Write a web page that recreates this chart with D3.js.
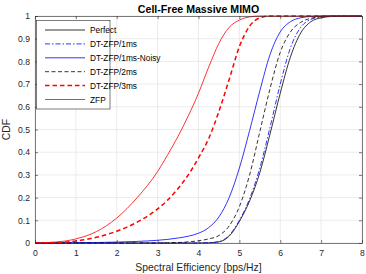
<!DOCTYPE html>
<html>
<head>
<meta charset="utf-8">
<script src="https://cdn.jsdelivr.net/npm/d3@7"></script>
<style>
  body { margin:0; background:#fff; }
  svg { display:block; font-family:"Liberation Sans", Arial, sans-serif; }
</style>
</head>
<body>
<div id="vis"></div>
<script>
// series (x = spectral efficiency, y = CDF)
var perfectX = [0, 4, 4.25, 4.5, 4.75, 5, 5.25, 5.5, 5.75, 6, 6.25, 6.5, 6.75, 7, 7.25, 7.5, 8]
var perfectY = [0, 0, 0.001, 0.005, 0.03, 0.095, 0.185, 0.31, 0.48, 0.66, 0.82, 0.925, 0.975, 0.992, 0.998, 1, 1]

var dt1X = [0, 4, 4.25, 4.5, 4.75, 5, 5.25, 5.5, 5.75, 6, 6.25, 6.5, 6.75, 7, 7.25, 8]
var dt1Y = [0, 0, 0.001, 0.006, 0.034, 0.1, 0.195, 0.33, 0.51, 0.7, 0.86, 0.95, 0.985, 0.996, 1, 1]

var noisyX = [0, 1, 2, 2.5, 3, 3.25, 3.5, 3.75, 4, 4.25, 4.5, 4.75, 5, 5.25, 5.5, 5.75, 6, 6.25, 6.5, 6.75, 7, 8]
var noisyY = [0, 0.001, 0.004, 0.007, 0.012, 0.016, 0.022, 0.03, 0.043, 0.068, 0.115, 0.2, 0.33, 0.495, 0.67, 0.83, 0.93, 0.975, 0.992, 0.998, 1, 1]

var dt2X = [0, 3, 3.5, 3.75, 4, 4.25, 4.5, 4.75, 5, 5.25, 5.5, 5.75, 6, 6.25, 6.5, 6.75, 7, 7.25, 8]
var dt2Y = [0, 0, 0.002, 0.005, 0.01, 0.018, 0.033, 0.075, 0.16, 0.3, 0.49, 0.68, 0.84, 0.93, 0.972, 0.99, 0.997, 1, 1]

var dt3X = [0, 0.5, 1, 1.5, 2, 2.5, 3, 3.25, 3.5, 3.75, 4, 4.25, 4.5, 4.75, 5, 5.25, 5.5, 5.75, 8]
var dt3Y = [0, 0.002, 0.009, 0.025, 0.052, 0.092, 0.15, 0.19, 0.24, 0.3, 0.375, 0.46, 0.58, 0.72, 0.865, 0.955, 0.992, 1, 1]

var zfpX = [0, 0.5, 1, 1.5, 2, 2.5, 3, 3.25, 3.5, 3.75, 4, 4.25, 4.5, 4.75, 5, 5.25, 5.5, 8]
var zfpY = [0, 0.004, 0.018, 0.05, 0.11, 0.2, 0.315, 0.39, 0.47, 0.56, 0.66, 0.775, 0.88, 0.95, 0.982, 0.996, 1, 1]

var seriesNames = ["Perfect", "DT-ZFP/1ms", "DT-ZFP/1ms-Noisy", "DT-ZFP/2ms", "DT-ZFP/3ms", "ZFP"]
var xTicks = [0, 1, 2, 3, 4, 5, 6, 7, 8]
var yTicks = [0, 0.1, 0.2, 0.3, 0.4, 0.5, 0.6, 0.7, 0.8, 0.9, 1]

var styles = [
  {color:"#000000", width:0.8, dash:null},
  {color:"#0000ff", width:0.8, dash:"5,2,1.5,2"},
  {color:"#0000ff", width:0.8, dash:null},
  {color:"#000000", width:0.8, dash:"4,2.5"},
  {color:"#ff0000", width:1.5, dash:"4.5,3"},
  {color:"#ff0000", width:0.8, dash:null}
]
var seriesX = [perfectX, dt1X, noisyX, dt2X, dt3X, zfpX]
var seriesY = [perfectY, dt1Y, noisyY, dt2Y, dt3Y, zfpY]

var W = 366, H = 274
var m = {left:35, right:4, top:16, bottom:31}

var svg = d3.select("#vis").append("svg").attr("width", W).attr("height", H)

var x = d3.scaleLinear().domain([0, 8]).range([m.left, W - m.right])
var y = d3.scaleLinear().domain([0, 1]).range([H - m.bottom, m.top])

// grid
svg.append("g").selectAll("line").data(xTicks).enter().append("line")
  .attr("x1", function(d){ return x(d) }).attr("x2", function(d){ return x(d) })
  .attr("y1", y(0)).attr("y2", y(1))
  .attr("stroke", "#e6e6e6").attr("stroke-width", 0.8)
svg.append("g").selectAll("line").data(yTicks).enter().append("line")
  .attr("y1", function(d){ return y(d) }).attr("y2", function(d){ return y(d) })
  .attr("x1", x(0)).attr("x2", x(8))
  .attr("stroke", "#e6e6e6").attr("stroke-width", 0.8)

// curves
var line = d3.line().curve(d3.curveMonotoneX)
  .x(function(d){ return x(d[0]) }).y(function(d){ return y(d[1]) })
var curves = svg.append("g")
for (var i = 0; i < seriesX.length; i++) {
  var pts = seriesX[i].map(function(v, j){ return [v, seriesY[i][j]] })
  var s = styles[i]
  curves.append("path").datum(pts)
    .attr("d", line)
    .attr("fill", "none")
    .attr("stroke", s.color)
    .attr("stroke-width", s.width)
    .attr("stroke-dasharray", s.dash)
}

// axes (matlab style, ticks inside, box)
var axCol = "#262626"
var xAxB = d3.axisBottom(x).tickValues(xTicks).tickSizeInner(-3).tickSizeOuter(0).tickPadding(7)
var xAxT = d3.axisTop(x).tickValues(xTicks).tickSizeInner(-3).tickSizeOuter(0).tickFormat("")
var yAxL = d3.axisLeft(y).tickValues(yTicks).tickSizeInner(-3).tickSizeOuter(0).tickPadding(5)
  .tickFormat(function(d){ return d === 0 || d === 1 ? d3.format("d")(d) : d3.format(".1f")(d) })
var yAxR = d3.axisRight(y).tickValues(yTicks).tickSizeInner(-3).tickSizeOuter(0).tickFormat("")

function styleAxis(g){
  g.selectAll("path").attr("stroke", axCol).attr("stroke-width", 0.6)
  g.selectAll("line").attr("stroke", axCol).attr("stroke-width", 0.6)
  g.selectAll("text").attr("fill", axCol).style("font-size", "8.6px")
    .style("font-family", "'Liberation Sans', Arial, sans-serif")
}
svg.append("g").attr("transform", "translate(0," + y(0) + ")").call(xAxB).call(styleAxis)
svg.append("g").attr("transform", "translate(0," + y(1) + ")").call(xAxT).call(styleAxis)
svg.append("g").attr("transform", "translate(" + x(0) + ",0)").call(yAxL).call(styleAxis)
svg.append("g").attr("transform", "translate(" + x(8) + ",0)").call(yAxR).call(styleAxis)

// labels
svg.append("text").attr("x", (x(0) + x(8)) / 2).attr("y", 13)
  .attr("text-anchor", "middle").attr("fill", "#000")
  .style("font-weight", "bold").style("font-size", "10.6px")
  .text("Cell-Free Massive MIMO")
svg.append("text").attr("x", (x(0) + x(8)) / 2).attr("y", 271)
  .attr("text-anchor", "middle").attr("fill", axCol).style("font-size", "10.4px")
  .text("Spectral Efficiency [bps/Hz]")
svg.append("text").attr("transform", "translate(10," + y(0.5) + ") rotate(-90)")
  .attr("text-anchor", "middle").attr("fill", axCol).style("font-size", "10.4px")
  .text("CDF")

// legend
var lg = svg.append("g")
lg.append("rect").attr("x", 36.5).attr("y", 20.5).attr("width", 73.5).attr("height", 88.5)
  .attr("fill", "#fff").attr("stroke", axCol).attr("stroke-width", 0.6)
var ly = d3.scaleLinear().domain([0, 5]).range([30, 99.5])
seriesNames.forEach(function(name, i){
  var s = styles[i]
  lg.append("line").attr("x1", 45).attr("x2", 85).attr("y1", ly(i)).attr("y2", ly(i))
    .attr("stroke", s.color).attr("stroke-width", s.width).attr("stroke-dasharray", s.dash)
  lg.append("text").attr("x", 90).attr("y", ly(i) + 3).attr("fill", "#000")
    .style("font-size", "8.3px").text(name)
})
</script>
</body>
</html>
